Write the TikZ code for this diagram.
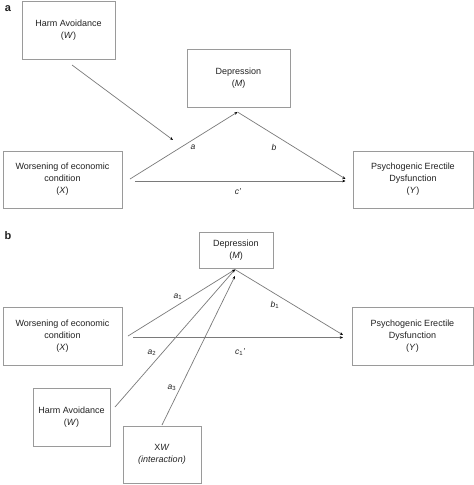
\documentclass[tikz,border=0pt]{standalone}
\usepackage{fontspec}
\setmainfont{Liberation Sans}
\usetikzlibrary{arrows.meta}
\definecolor{boxgray}{HTML}{9A9A9A}
\definecolor{linegray}{HTML}{7A7A7A}
\definecolor{txt}{HTML}{222222}
\begin{document}
\begin{tikzpicture}[x=1pt,y=-1pt,
  box/.style={draw=boxgray,line width=0.9pt,fill=white,inner sep=0pt,align=center,
    font=\fontsize{9}{12}\selectfont,text=txt},
  conn/.style={draw=linegray,line width=0.7pt,-{Stealth[length=3.2pt,width=2.6pt,color=black]}},
  plain/.style={draw=linegray,line width=0.7pt},
  lab/.style={font=\fontsize{8.5}{10}\selectfont\itshape,text=txt,inner sep=0pt},
  panel/.style={font=\fontsize{11}{12}\selectfont\bfseries,text=txt,inner sep=0pt}]
\useasboundingbox (0,0) rectangle (474,485);
\fill[white] (0,0) rectangle (474,485);
% ---------- panel a ----------
\node[panel] (pa) at (8,9) {a};
\node[box,minimum width=93pt,minimum height=58pt] (HAa) at (68.5,30) {Harm Avoidance\\(\textit{W})};
\node[box,minimum width=103pt,minimum height=58pt] (Da) at (238.5,78) {Depression\\(\textit{M})};
\node[box,minimum width=119pt,minimum height=57pt] (Xa) at (62.5,179.5) {Worsening of economic\\condition\\(\textit{X})};
\node[box,minimum width=120pt,minimum height=57pt] (Ya) at (413,179.5) {Psychogenic Erectile\\Dysfunction\\(\textit{Y})};
\coordinate (wa) at (72,65);
\coordinate (wt) at (173,140);
\coordinate (xa1) at (130,179);
\coordinate (xa2) at (135,181);
\coordinate (apa) at (237.5,112);
\coordinate (ya1) at (345.5,179);
\coordinate (ya2) at (345.5,181);
\draw[conn] (wa) -- (wt);
\draw[conn] (xa1) -- (apa);
\draw[conn] (apa) -- (ya1);
\draw[conn] (xa2) -- (ya2);
\node[lab] (la) at (193,147) {a};
\node[lab] (lb) at (274,147) {b};
\node[lab] (lc) at (238,192) {c'};
% ---------- panel b ----------
\node[panel] (pb) at (8,236) {b};
\node[box,minimum width=74pt,minimum height=36pt] (Db) at (236,250) {Depression\\(\textit{M})};
\node[box,minimum width=119pt,minimum height=58pt] (Xb) at (62.5,336) {Worsening of economic\\condition\\(\textit{X})};
\node[box,minimum width=121pt,minimum height=58pt] (Yb) at (412.5,336) {Psychogenic Erectile\\Dysfunction\\(\textit{Y})};
\node[box,minimum width=77pt,minimum height=58pt] (HAb) at (71.5,417) {Harm Avoidance\\(\textit{W})};
\node[box,minimum width=78pt,minimum height=57pt] (XW) at (162,454.5) {X\textit{W}\\\textit{(interaction)}};
\coordinate (apb) at (235,269.5);
\coordinate (apb2) at (235,276);
\coordinate (xb1) at (128,336);
\coordinate (xb2) at (133,337.5);
\coordinate (yb1) at (343,335);
\coordinate (yb2) at (343,337.5);
\coordinate (wb) at (115,407);
\coordinate (xwb) at (162,425);
\draw[conn] (xb1) -- (apb);
\draw[conn] (wb) -- (apb);
\draw[conn] (xwb) -- (apb2);
\draw[conn] (apb) -- (yb1);
\draw[conn] (xb2) -- (yb2);
\node[lab] (la1) at (178,297) {a\textsubscript{\upshape 1}};
\node[lab] (lb1) at (275,305) {b\textsubscript{\upshape 1}};
\node[lab] (lc1) at (240,352) {c\textsubscript{\upshape 1}'};
\node[lab] (la2) at (152,353) {a\textsubscript{\upshape 2}};
\node[lab] (la3) at (172,388) {a\textsubscript{\upshape 3}};
\end{tikzpicture}
\end{document}
